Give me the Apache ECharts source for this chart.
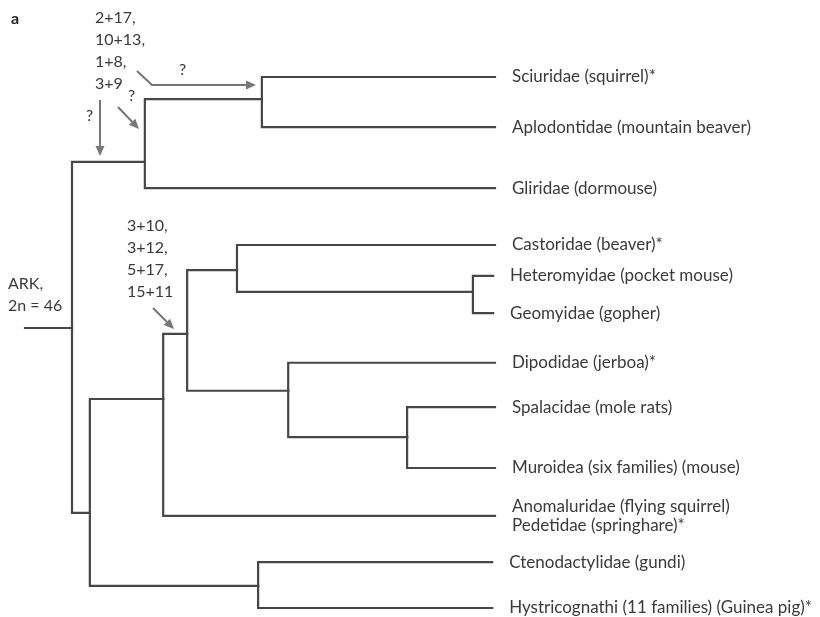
<!DOCTYPE html>
<html>
<head>
<meta charset="utf-8">
<title>ARK tree</title>
<script src="https://cdn.jsdelivr.net/npm/echarts@6.0.0/dist/echarts.min.js"></script>
<style>
  html, body { margin: 0; background: #fff; }
  #chart { width: 820px; height: 617px; }
</style>
</head>
<body>
<div id="chart"></div>
<script>
// leaves of the tree (row = vertical position, depth = where the branch ends)
var leafNames = [
    'Sciuridae (squirrel)*',
    'Aplodontidae (mountain beaver)',
    'Gliridae (dormouse)',
    'Castoridae (beaver)*',
    'Heteromyidae (pocket mouse)',
    'Geomyidae (gopher)',
    'Dipodidae (jerboa)*',
    'Spalacidae (mole rats)',
    'Muroidea (six families) (mouse)',
    'Anomaluridae (flying squirrel)\nPedetidae (springhare)*',
    'Ctenodactylidae (gundi)',
    'Hystricognathi (11 families) (Guinea pig)*'
];
var leafRows    = [0, 1.04, 2.3, 3.48, 4.12, 4.89, 5.92, 6.84, 8.1, 9.09, 10.05, 11];
var leafParents = ['B', 'B', 'A', 'F', 'G', 'G', 'H', 'I', 'I', 'D', 'J', 'J'];
var leafDepths  = [100, 100, 100, 100, 99.6, 99.6, 100, 100, 100, 100, 99.4, 99.4];

// internal nodes
var nodeIds     = ['root', 'A', 'B', 'C', 'D', 'E', 'F', 'G', 'H', 'I', 'J'];
var nodeDepths  = [10, 25.5, 50.4, 13.8, 29.4, 34.5, 45.1, 95.3, 56, 81.3, 49.6];
var nodeRows    = [5.2, 1.76, 0.46, 9.03, 6.67, 5.32, 4.0, 4.45, 6.5, 7.46, 10.54];
var nodeParents = [null, 'root', 'A', 'root', 'C', 'D', 'E', 'F', 'E', 'H', 'C'];

var lineColor = '#474747';
var arrowColor = '#777777';
var textColor = '#3a3a3a';
var fontName = 'Lato';

function nodeIndex(id) { return nodeIds.indexOf(id); }

// each branch: [parentDepth, parentRow, depth, row]
var branches = [];
var branchNames = [];
nodeIds.forEach(function (id, i) {
    var p = nodeParents[i];
    if (p === null) {
        branches.push([0, nodeRows[i], nodeDepths[i], nodeRows[i]]);
    } else {
        var k = nodeIndex(p);
        branches.push([nodeDepths[k], nodeRows[k], nodeDepths[i], nodeRows[i]]);
    }
    branchNames.push('');
});
leafNames.forEach(function (name, i) {
    var k = nodeIndex(leafParents[i]);
    branches.push([nodeDepths[k], nodeRows[k], leafDepths[i], leafRows[i]]);
    branchNames.push(name);
});

var chart = echarts.init(document.getElementById('chart'));

function arrow(points) {
    var n = points.length;
    var tip = points[n - 1], prev = points[n - 2];
    var dx = tip[0] - prev[0], dy = tip[1] - prev[1];
    var len = Math.sqrt(dx * dx + dy * dy);
    var ux = dx / len, uy = dy / len;
    var hl = 10, hw = 4.5;
    var base = [tip[0] - ux * hl, tip[1] - uy * hl];
    var linePts = points.slice(0, n - 1).concat([base]);
    return [
        { type: 'polyline', shape: { points: linePts },
          style: { stroke: arrowColor, lineWidth: 2, fill: null } },
        { type: 'polygon', shape: { points: [tip,
            [base[0] - uy * hw, base[1] + ux * hw],
            [base[0] + uy * hw, base[1] - ux * hw]] },
          style: { fill: arrowColor } }
    ];
}

function label(x, y, text, extra) {
    var st = { text: text, fill: textColor, font: '16px ' + fontName, lineHeight: 22,
               align: 'left', verticalAlign: 'top' };
    for (var k in extra) st[k] = extra[k];
    return { type: 'text', x: x, y: y, style: st };
}

var graphics = [
    label(11, 8, 'a', { font: 'bold 16px ' + fontName, fill: '#222' }),
    label(95, 7, '2+17,\n10+13,\n1+8,\n3+9'),
    label(179, 59, '?'),
    label(86, 105, '?'),
    label(128, 85, '?'),
    label(127, 215, '3+10,\n3+12,\n5+17,\n15+11'),
    label(8, 273, 'ARK,\n2n = 46')
];
graphics = graphics
    .concat(arrow([[137, 71], [152, 85], [256, 85]]))
    .concat(arrow([[100, 100], [100, 156]]))
    .concat(arrow([[118, 107], [139, 129]]))
    .concat(arrow([[153, 308], [174, 329]]));

var option = {
    animation: false,
    grid: { left: 25, right: 325, top: 77, bottom: 9, outerBoundsMode: 'none' },
    xAxis: { type: 'value', min: 0, max: 100, show: false },
    yAxis: { type: 'value', min: 0, max: 11, inverse: true, show: false },
    graphic: graphics,
    series: [{
        type: 'custom',
        data: branches,
        encode: { x: [0, 2], y: [1, 3] },
        renderItem: function (params, api) {
            var p0 = api.coord([api.value(0), api.value(1)]);
            var p1 = api.coord([api.value(0), api.value(3)]);
            var p2 = api.coord([api.value(2), api.value(3)]);
            var kids = [{
                type: 'polyline',
                shape: { points: [p0, p1, p2] },
                style: { stroke: lineColor, lineWidth: 2.2, fill: null, lineJoin: 'miter', lineCap: 'square' }
            }];
            var name = branchNames[params.dataIndex];
            if (name) {
                kids.push({
                    type: 'text', x: p2[0] + 17, y: p2[1],
                    style: { text: name, fill: textColor, font: '17px ' + fontName,
                             lineHeight: 19, align: 'left', verticalAlign: 'middle' }
                });
            }
            return { type: 'group', children: kids };
        }
    }]
};
chart.setOption(option);
</script>
</body>
</html>
